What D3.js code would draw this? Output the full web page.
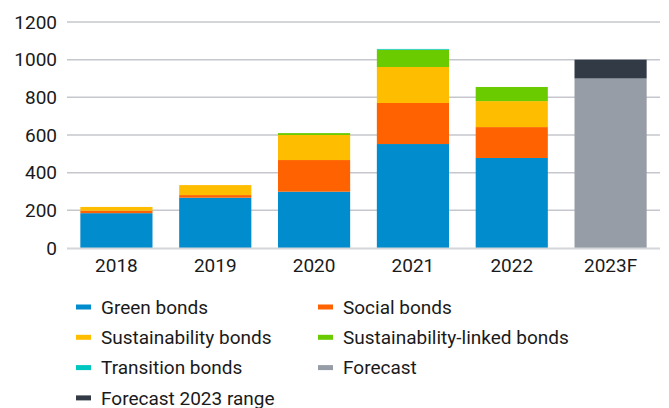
<!DOCTYPE html>
<html>
<head>
<meta charset="utf-8">
<script src="https://cdn.jsdelivr.net/npm/d3@7"></script>
<style>
  body { margin: 0; background: #fff; }
  text { font-family: Roboto, 'Noto Sans', sans-serif; fill: #1a1a1a; }
</style>
</head>
<body>
<div id="chart"></div>
<script>
// data (USD bn)
let years = ['2018', '2019', '2020', '2021', '2022', '2023F']
let greenBonds = [185, 267, 299, 552, 478, 0]
let socialBonds = [13, 14, 168, 218, 164, 0]
let sustainabilityBonds = [20, 53, 133, 191, 138, 0]
let slBonds = [0, 0, 10, 92, 75, 0]
let transitionBonds = [0, 0, 0, 4, 0, 0]
let forecast = [0, 0, 0, 0, 0, 900]
let forecastRange = [0, 0, 0, 0, 0, 100]
let yTicks = [0, 200, 400, 600, 800, 1000, 1200]

let seriesKeys = ['green', 'social', 'sust', 'slb', 'transition', 'forecast', 'range']
let seriesNames = {
  green: 'Green bonds',
  social: 'Social bonds',
  sust: 'Sustainability bonds',
  slb: 'Sustainability-linked bonds',
  transition: 'Transition bonds',
  forecast: 'Forecast',
  range: 'Forecast 2023 range'
}
let colors = {
  green: '#008ccd',
  social: '#ff6200',
  sust: '#ffbd00',
  slb: '#6acb00',
  transition: '#00c6c0',
  forecast: '#979da6',
  range: '#323a45'
}

let rows = years.map((y, i) => ({
  year: y,
  green: greenBonds[i],
  social: socialBonds[i],
  sust: sustainabilityBonds[i],
  slb: slBonds[i],
  transition: transitionBonds[i],
  forecast: forecast[i],
  range: forecastRange[i]
}))

let margin = { top: 22, left: 67, right: 9, bottom: 160 }
let width = 669 - margin.left - margin.right
let height = 408 - margin.top - margin.bottom

let root = d3
  .select('#chart')
  .append('svg')
  .attr('width', 669)
  .attr('height', 408)

let svg = root
  .append('g')
  .attr('transform', 'translate(' + margin.left + ',' + margin.top + ')')

let xPositionScale = d3
  .scaleBand()
  .domain(years)
  .range([0, width])
  .paddingInner(0.27)
  .paddingOuter(0.135)

let yPositionScale = d3.scaleLinear().domain([0, 1200]).range([height, 0])

// gridlines
svg
  .selectAll('.grid')
  .data(yTicks.filter(d => d > 0))
  .enter()
  .append('line')
  .attr('class', 'grid')
  .attr('x1', 0)
  .attr('x2', width)
  .attr('y1', d => yPositionScale(d))
  .attr('y2', d => yPositionScale(d))
  .attr('stroke', '#c5c7cd')
  .attr('stroke-width', 1.5)

let stacked = d3.stack().keys(seriesKeys)(rows)

svg
  .selectAll('.layer')
  .data(stacked)
  .enter()
  .append('g')
  .attr('class', 'layer')
  .attr('fill', d => colors[d.key])
  .selectAll('rect')
  .data(d => d.filter(p => p[1] - p[0] > 0))
  .enter()
  .append('rect')
  .attr('x', d => xPositionScale(d.data.year))
  .attr('width', xPositionScale.bandwidth())
  .attr('y', d => yPositionScale(d[1]))
  .attr('height', d => yPositionScale(d[0]) - yPositionScale(d[1]))

// baseline
svg
  .append('line')
  .attr('x1', 0)
  .attr('x2', width)
  .attr('y1', height + 0.5)
  .attr('y2', height + 0.5)
  .attr('stroke', '#d4d6da')
  .attr('stroke-width', 2)

let yAxis = d3
  .axisLeft(yPositionScale)
  .tickValues(yTicks)
  .tickFormat(d3.format('d'))
  .tickSize(0)
  .tickPadding(10)

svg
  .append('g')
  .attr('class', 'axis y-axis')
  .call(yAxis)
  .call(g => g.select('.domain').remove())
  .selectAll('text')
  .attr('font-size', 19)
  .attr('font-family', null)

let xAxis = d3.axisBottom(xPositionScale).tickSize(0).tickPadding(11)

svg
  .append('g')
  .attr('class', 'axis x-axis')
  .attr('transform', 'translate(0,' + height + ')')
  .call(xAxis)
  .call(g => g.select('.domain').remove())
  .selectAll('text')
  .attr('font-size', 19)
  .attr('font-family', null)

// legend, two columns
let legendOrder = ['green', 'social', 'sust', 'slb', 'transition', 'forecast', 'range']
let legend = root
  .selectAll('.legend')
  .data(legendOrder)
  .enter()
  .append('g')
  .attr('class', 'legend')
  .attr('transform', (d, i) => {
    let x = i % 2 === 0 ? 76 : 318
    let y = 307 + Math.floor(i / 2) * 30.3
    return 'translate(' + x + ',' + y + ')'
  })

legend
  .append('rect')
  .attr('x', 0)
  .attr('y', -2.5)
  .attr('width', 15)
  .attr('height', 5)
  .attr('fill', d => colors[d])

legend
  .append('text')
  .attr('x', 25)
  .attr('dy', '0.35em')
  .attr('font-size', 19)
  .text(d => seriesNames[d])
</script>
</body>
</html>
